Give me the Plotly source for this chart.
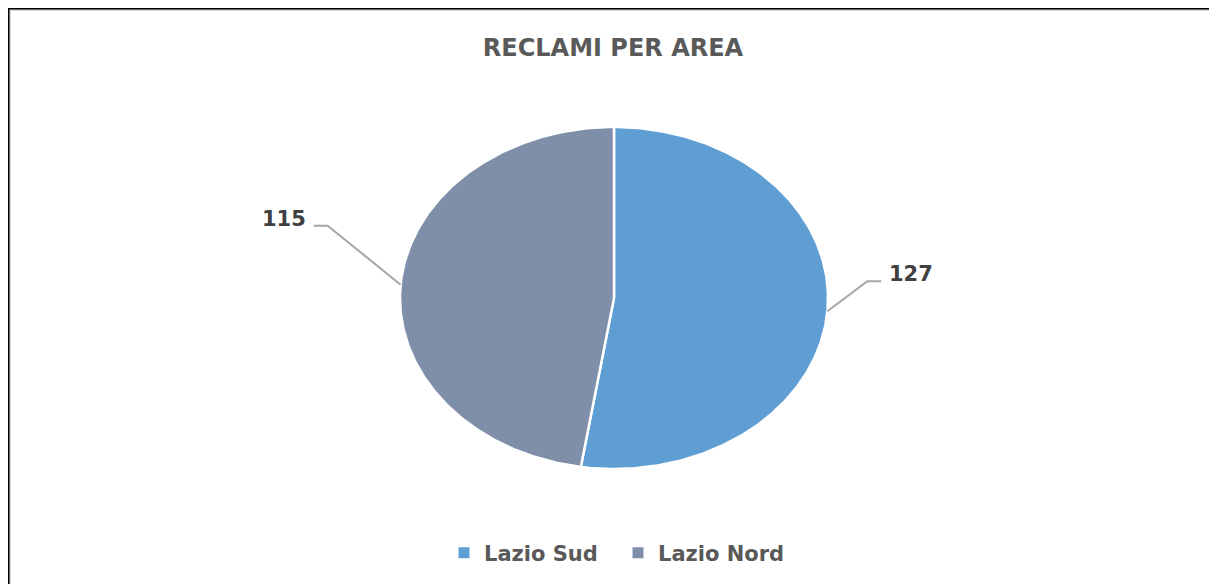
import numpy as np
import plotly.graph_objects as go

# ---- data ----
categories = ["Lazio Sud", "Lazio Nord"]
values = [127, 115]
colors = ["#5F9ED3", "#7F8FAA"]
title_text = "RECLAMI PER AREA"

# ---- layout constants (page pixel space) ----
W, H = 1217, 584
OFF = 8  # page body margin
CX, CY, RX, RY = 614, 298, 214, 171
FONT = "DejaVu Sans"
TXT = "#595959"
# leader line geometry for each label: (diagonal dx, dy, horizontal dx)
leaders = [(40, -30, 14), (-73, -59, -14)]

fig = go.Figure()

total = sum(values)
start = 0.0
for i, (cat, v) in enumerate(zip(categories, values)):
    frac = v / total
    a0, a1 = start * 2 * np.pi, (start + frac) * 2 * np.pi
    t = np.linspace(a0, a1, 240)
    xs = np.concatenate([[CX], CX + RX * np.sin(t), [CX]])
    ys = np.concatenate([[CY], CY - RY * np.cos(t), [CY]])
    fig.add_trace(go.Scatter(x=xs, y=ys, mode="lines", fill="toself",
                             fillcolor=colors[i],
                             line=dict(color="white", width=2.5),
                             showlegend=False, hoverinfo="text", text=f"{cat}: {v}"))
    # leader line + label
    am = (a0 + a1) / 2
    ex, ey = CX + RX * np.sin(am), CY - RY * np.cos(am)
    ddx, ddy, hdx = leaders[i]
    bx, by = ex + ddx, ey + ddy
    lx, ly = bx + hdx, by
    fig.add_trace(go.Scatter(x=[ex, bx, lx], y=[ey, by, ly], mode="lines",
                             line=dict(color="#A6A6A6", width=2),
                             showlegend=False, hoverinfo="skip"))
    fig.add_annotation(x=lx + (6 if hdx > 0 else -6), y=ly - 7, text=f"<b>{v}</b>",
                       showarrow=False, xanchor="left" if hdx > 0 else "right",
                       yanchor="middle",
                       font=dict(family=FONT, size=21, color="#404040"))
    start += frac

# legend entries
for cat, col in zip(categories, colors):
    fig.add_trace(go.Scatter(x=[None], y=[None], mode="markers", name=cat,
                             marker=dict(symbol="square", size=11, color=col)))

# frame
fig.add_shape(type="rect", x0=10, y0=10, x1=1215, y1=H + 20,
              line=dict(color="#D9D9D9", width=2), layer="below")
fig.add_shape(type="line", x0=6, y0=8, x1=W + 10, y1=8, line=dict(color="black", width=3))
fig.add_shape(type="line", x0=8, y0=6, x1=8, y1=H + 10, line=dict(color="black", width=3))

fig.update_layout(
    width=W, height=H,
    margin=dict(l=0, r=0, t=0, b=0),
    paper_bgcolor="white", plot_bgcolor="white",
    xaxis=dict(range=[OFF, W + OFF], visible=False, fixedrange=True),
    yaxis=dict(range=[H + OFF, OFF], visible=False, fixedrange=True),
    title=dict(text=f"<b>{title_text}</b>", x=(613 - OFF) / W, xanchor="center",
               y=1 - (48 - OFF) / H, yanchor="middle",
               font=dict(family=FONT, size=24, color=TXT)),
    legend=dict(orientation="h", x=(444 - OFF) / W, xanchor="left",
                y=1 - (553 - OFF) / H, yanchor="middle",
                font=dict(family=FONT, size=21, color=TXT, weight="bold"),
                entrywidth=129, entrywidthmode="pixels",
                bgcolor="rgba(0,0,0,0)"),
    showlegend=True,
)

fig.write_html("out.html")
